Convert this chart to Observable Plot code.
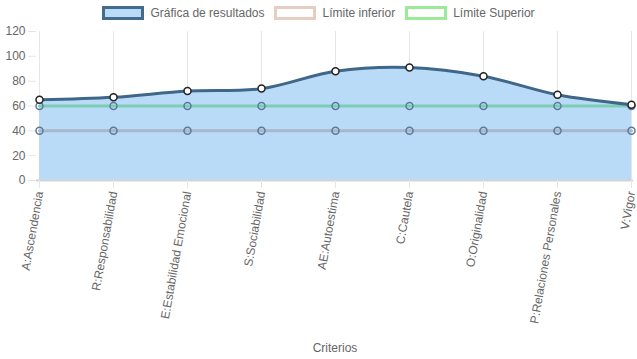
<!DOCTYPE html>
<html>
<head>
<meta charset="utf-8">
<script src="https://cdn.jsdelivr.net/npm/d3@7"></script>
<script src="https://cdn.jsdelivr.net/npm/@observablehq/plot@0.6"></script>
<style>
  body { margin: 0; background: #fff; font-family: "Liberation Sans", Arial, sans-serif; }
  #legend { height: 22px; padding-top: 4px; display: flex; justify-content: center; align-items: center; font-size: 12px; color: #666; padding-left: 0px; box-sizing: border-box; }
  .item { display: flex; align-items: center; margin: 0 5px; }
  .box { width: 36px; height: 8px; border-width: 3px; border-style: solid; margin-right: 6px; }
  svg { display: block; }
</style>
</head>
<body>
<div id="legend"></div>
<div id="chart"></div>
<script>
const categories = ["A:Ascendencia", "R:Responsabilidad", "E:Estabilidad Emocional", "S:Sociabilidad", "AE:Autoestima", "C:Cautela", "O:Originalidad", "P:Relaciones Personales", "V:Vigor"];
const resultados = [65, 67, 72, 74, 88, 91, 84, 69, 61];
const limiteInferior = [40, 40, 40, 40, 40, 40, 40, 40, 40];
const limiteSuperior = [60, 60, 60, 60, 60, 60, 60, 60, 60];
const seriesNames = ["Gráfica de resultados", "Límite inferior", "Límite Superior"];
const yTicks = [0, 20, 40, 60, 80, 100, 120];

const legendStyles = [
  {fill: "#b9dbf7", stroke: "#456b8c"},
  {fill: "#ffffff", stroke: "#e8cdc2"},
  {fill: "#ffffff", stroke: "#9aea96"}
];
const legend = document.getElementById("legend");
seriesNames.forEach((n, i) => {
  const it = document.createElement("div");
  it.className = "item";
  const b = document.createElement("div");
  b.className = "box";
  b.style.background = legendStyles[i].fill;
  b.style.borderColor = legendStyles[i].stroke;
  it.appendChild(b);
  const t = document.createElement("span");
  t.textContent = n;
  it.appendChild(t);
  legend.appendChild(it);
});

const res = categories.map((c, i) => ({c, v: resultados[i]}));
const inf = categories.map((c, i) => ({c, v: limiteInferior[i]}));
const sup = categories.map((c, i) => ({c, v: limiteSuperior[i]}));

const chart = Plot.plot({
  width: 637,
  height: 337,
  marginLeft: 36,
  marginRight: 4,
  marginTop: 9,
  marginBottom: 179,
  style: {fontFamily: "'Liberation Sans', Arial, sans-serif", fontSize: "12px", color: "#666"},
  x: {type: "point", domain: categories, range: [36, 633], padding: 0, insetLeft: 0, insetRight: 0},
  y: {domain: [0, 120]},
  marks: [
    Plot.ruleY(yTicks.filter(d => d > 0), {stroke: "#e6e6e6", strokeWidth: 1, x1: categories[0], x2: categories[categories.length-1]}),
    Plot.ruleX(categories, {stroke: "#e6e6e6", strokeWidth: 1, y1: 0, y2: 120}),
    Plot.areaY(res, {x: "c", y: "v", curve: "catmull-rom", fill: "#b9dbf7"}),
    Plot.ruleY([0], {stroke: "#d3d3d3", strokeWidth: 2}),
    Plot.axisY({ticks: yTicks, tickSize: 8, tickPadding: 3, stroke: "#e6e6e6", fill: "#666", label: null, fontSize: 12}),
    Plot.axisX({tickSize: 8, tickPadding: 3, tickRotate: -80, stroke: "#e6e6e6", fill: "#666", label: "Criterios", labelAnchor: "center", labelOffset: 171, labelArrow: "none", fontSize: 12}),
    Plot.line(inf, {x: "c", y: "v", stroke: "#a9b6cc", strokeWidth: 3}),
    Plot.line(sup, {x: "c", y: "v", stroke: "#7ccdb4", strokeWidth: 3}),
    Plot.line(res, {x: "c", y: "v", curve: "catmull-rom", stroke: "#3f6789", strokeWidth: 3}),
    Plot.dot(inf, {x: "c", y: "v", r: 3.5, stroke: "#5a7a99", strokeWidth: 1.5, fill: "none"}),
    Plot.dot(sup, {x: "c", y: "v", r: 3.5, stroke: "#5a7a99", strokeWidth: 1.5, fill: "none"}),
    Plot.dot(res, {x: "c", y: "v", r: 3.5, stroke: "#222", strokeWidth: 1.5, fill: "#fff"})
  ]
});
document.getElementById("chart").appendChild(chart);
</script>
</body>
</html>
